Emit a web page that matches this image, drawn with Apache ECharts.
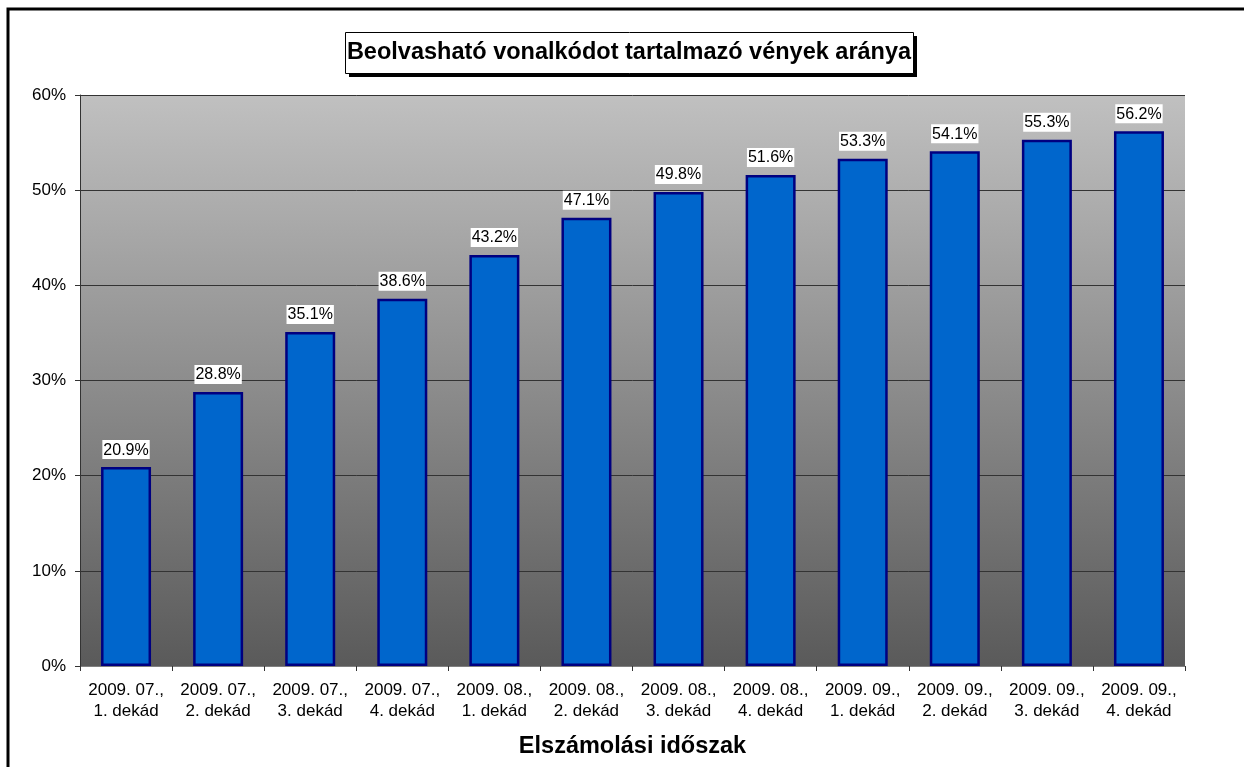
<!DOCTYPE html>
<html>
<head>
<meta charset="utf-8">
<script src="https://cdn.jsdelivr.net/npm/echarts@6/dist/echarts.min.js"></script>
<style>
  html, body { margin: 0; padding: 0; background: #fff; }
  #chart { width: 1244px; height: 767px; }
</style>
</head>
<body>
<div id="chart"></div>
<script>
// periods (two-line labels) and share of readable barcodes
const periods = [
  '2009. 07.,\n1. dekád', '2009. 07.,\n2. dekád', '2009. 07.,\n3. dekád', '2009. 07.,\n4. dekád',
  '2009. 08.,\n1. dekád', '2009. 08.,\n2. dekád', '2009. 08.,\n3. dekád', '2009. 08.,\n4. dekád',
  '2009. 09.,\n1. dekád', '2009. 09.,\n2. dekád', '2009. 09.,\n3. dekád', '2009. 09.,\n4. dekád'
]
const shares = [20.9, 28.8, 35.1, 38.6, 43.2, 47.1, 49.8, 51.6, 53.3, 54.1, 55.3, 56.2]
const yTicks = [0, 10, 20, 30, 40, 50, 60]

const font = 'Liberation Sans, Arial, sans-serif'
const mychart = echarts.init(document.getElementById('chart'))
mychart.setOption({
  animation: false,
  textStyle: { fontFamily: font },
  title: {
    text: 'Beolvasható vonalkódot tartalmazó vények aránya',
    left: 629,
    textAlign: 'center',
    top: 41,
    padding: 0,
    textStyle: { fontSize: 23.5, fontWeight: 'bold', color: '#000', fontFamily: font }
  },
  graphic: [
    // outer chart frame (top and left edges visible)
    { type: 'polyline', z: 100, shape: { points: [[8, 767], [8, 9], [1244, 9]] }, style: { stroke: '#000', lineWidth: 3, fill: null } },
    // title box with its drop shadow
    { type: 'rect', z: -1, shape: { x: 349, y: 36, width: 568, height: 41 }, style: { fill: '#000' } },
    { type: 'rect', z: -1, shape: { x: 345.5, y: 32.5, width: 568, height: 41 }, style: { fill: '#fff', stroke: '#000', lineWidth: 1 } }
  ],
  grid: {
    left: 80,
    right: 59,
    top: 95,
    bottom: 101,
    outerBoundsMode: 'none',
    containLabel: false,
    show: true,
    borderWidth: 0,
    backgroundColor: new echarts.graphic.LinearGradient(0, 0, 0, 1, [
      { offset: 0, color: '#c0c0c0' },
      { offset: 1, color: '#5a5a5a' }
    ])
  },
  xAxis: {
    type: 'category',
    data: periods,
    name: 'Elszámolási időszak',
    nameLocation: 'middle',
    nameGap: 69,
    nameTextStyle: { fontSize: 23.5, fontWeight: 'bold', color: '#000', fontFamily: font },
    axisLine: { lineStyle: { color: '#808080', width: 1 } },
    axisTick: { show: true, length: 5, lineStyle: { color: '#333' } },
    axisLabel: { color: '#000', fontSize: 17, lineHeight: 21, margin: 14, interval: 0, fontFamily: font }
  },
  yAxis: {
    type: 'value',
    min: yTicks[0],
    max: yTicks[yTicks.length - 1],
    interval: 10,
    axisLine: { show: true, lineStyle: { color: '#333', width: 1 } },
    axisTick: { show: true, length: 5, lineStyle: { color: '#333' } },
    axisLabel: { color: '#000', fontSize: 17, margin: 14, formatter: '{value}%', fontFamily: font },
    splitLine: { lineStyle: { color: '#333', width: 1 } }
  },
  series: [
    {
      type: 'bar',
      data: shares,
      barWidth: 50,
      itemStyle: { color: '#0066cc', borderColor: '#000080', borderWidth: 2.5 },
      label: {
        show: true,
        position: 'top',
        distance: 8,
        formatter: p => p.value.toFixed(1) + '%',
        color: '#000',
        fontSize: 16,
        fontFamily: font,
        backgroundColor: '#fff',
        padding: [2, 1, 1, 1]
      }
    }
  ]
})
</script>
</body>
</html>
